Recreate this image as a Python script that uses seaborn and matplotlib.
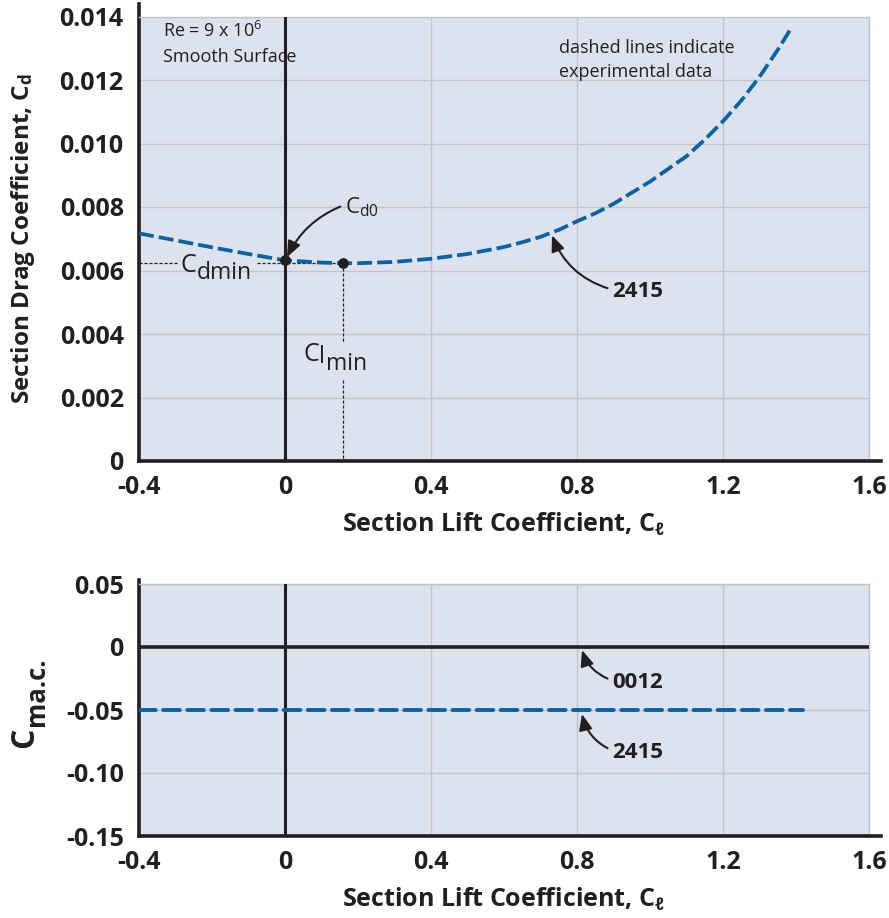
import numpy as np
import pandas as pd
import matplotlib.pyplot as plt
import seaborn as sns

# NACA 2415 drag polar
cl_2415 = [-0.4, -0.3, -0.2, -0.1, 0.0, 0.1, 0.16, 0.2, 0.3, 0.4, 0.5, 0.6,
           0.65, 0.7, 0.75, 0.8, 0.85, 0.9, 0.95, 1.0, 1.05, 1.1, 1.15, 1.2,
           1.25, 1.3, 1.35, 1.385]
cd_2415 = [0.00717, 0.00695, 0.00673, 0.00652, 0.00632, 0.00625, 0.00623,
           0.00623, 0.00627, 0.00637, 0.00652, 0.00674, 0.00689, 0.00706,
           0.00728, 0.00755, 0.0078, 0.0081, 0.00845, 0.0088, 0.0092, 0.0096,
           0.01012, 0.0107, 0.01135, 0.0121, 0.01295, 0.0136]
cd0_pt = (0.0, 0.00632)
cdmin_pt = (0.16, 0.00623)

# moment coefficient about a.c.
cl_cm_2415 = [-0.4, 1.42]
cm_2415 = [-0.05, -0.05]
cl_cm_0012 = [-0.4, 1.6]
cm_0012 = [0.0, 0.0]

x_ticks = [-0.4, 0, 0.4, 0.8, 1.2, 1.6]
x_labels = ['-0.4', '0', '0.4', '0.8', '1.2', '1.6']
cd_ticks = [0, 0.002, 0.004, 0.006, 0.008, 0.010, 0.012, 0.014]
cd_labels = ['0', '0.002', '0.004', '0.006', '0.008', '0.010', '0.012', '0.014']
cm_ticks = [0.05, 0, -0.05, -0.10, -0.15]
cm_labels = ['0.05', '0', '-0.05', '-0.10', '-0.15']

blue = '#0862a3'
ink = '#231f20'
gridc = '#c3c4c9'
bg = '#dce3ef'

sns.set_theme(style='whitegrid', rc={'axes.facecolor': bg, 'grid.color': gridc,
                                     'grid.linewidth': 1.0})
plt.rcParams['font.family'] = ['Open Sans', 'DejaVu Sans']
plt.rcParams['mathtext.default'] = 'regular'
plt.rcParams['axes.unicode_minus'] = False

fig = plt.figure(figsize=(8.89, 9.18), dpi=100)
ax1 = fig.add_axes([139/889, 1-461/918, 730/889, 444.5/918])
ax2 = fig.add_axes([139/889, 1-836/918, 730/889, 252/918])


def style_axes(ax, yticks, ylabels, ylim, ytop_ext):
    ax.set_xlim(-0.4, 1.6)
    ax.set_ylim(*ylim)
    ax.set_xticks(x_ticks)
    ax.set_xticklabels(x_labels, fontsize=18, fontweight='bold', color=ink)
    ax.set_yticks(yticks)
    ax.set_yticklabels(ylabels, fontsize=18, fontweight='bold', color=ink)
    ax.tick_params(length=0, pad=11)
    ax.tick_params(axis='x', pad=10)
    ax.set_axisbelow(True)
    for s in ['top', 'right']:
        ax.spines[s].set_color(gridc)
        ax.spines[s].set_linewidth(1.0)
    for s in ['left', 'bottom']:
        ax.spines[s].set_color(ink)
        ax.spines[s].set_linewidth(2.6)
    ax.spines['left'].set_bounds(ylim[0], ytop_ext)
    ax.spines['bottom'].set_bounds(-0.4, 1.633)
    ax.axvline(0, color=ink, lw=2.2, zorder=3)
    ax.set_xlabel('Section Lift Coefficient, C$_\\ell$', fontsize=18,
                  fontweight='bold', color=ink, labelpad=8)


arrow = dict(arrowstyle='-|>,head_length=0.6,head_width=0.25', color=ink, lw=1.5,
             shrinkA=1, shrinkB=0)


def pointer(ax, label, tip, at, rad, bold=True, size=16):
    ax.annotate(label, xy=tip, xytext=at, fontsize=size, color=ink,
                fontweight='bold' if bold else 'normal', va='baseline', ha='left',
                arrowprops=dict(connectionstyle='arc3,rad=%s' % rad,
                                relpos=(0, 0.6), **arrow))


# ---- top: drag coefficient ----
style_axes(ax1, cd_ticks, cd_labels, (0, 0.014), 0.0144)
sns.lineplot(x=cl_2415, y=cd_2415, ax=ax1, color=blue, lw=2.7,
             linestyle=(0, (4.0, 1.35)), zorder=4)
ax1.scatter([cd0_pt[0], cdmin_pt[0]], [cd0_pt[1], cdmin_pt[1]], s=60,
            color=ink, zorder=5, linewidths=0)
ax1.set_ylabel('Section Drag Coefficient, C$_\\mathregular{d}$', fontsize=17.5,
               fontweight='bold', color=ink, labelpad=16)

# dotted guides for Cd_min and Cl_min
dot = dict(color=ink, lw=0.9, ls=(0, (2.5, 1.5)), zorder=3)
ax1.plot([-0.4, -0.293], [cdmin_pt[1]] * 2, **dot)
ax1.plot([-0.077, cdmin_pt[0]], [cdmin_pt[1]] * 2, **dot)
ax1.plot([cdmin_pt[0]] * 2, [cdmin_pt[1], 0.00374], **dot)
ax1.plot([cdmin_pt[0]] * 2, [0.00255, 0], **dot)

ax1.text(-0.334, 0.01334, 'Re = 9 x 10$^6$', fontsize=13, color=ink, va='baseline')
ax1.text(-0.334, 0.01258, 'Smooth Surface', fontsize=13, color=ink, va='baseline')
ax1.text(0.751, 0.01284, 'dashed lines indicate', fontsize=13, color=ink, va='baseline')
ax1.text(0.751, 0.01208, 'experimental data', fontsize=13, color=ink, va='baseline')

# C_dmin and C_lmin with large, dropped subscripts
c1 = ax1.text(-0.286, 0.00577, 'C', fontsize=18, color=ink, va='bottom', ha='left')
ax1.annotate('dmin', xy=(1, 0), xycoords=c1, xytext=(0.5, -5.5),
             textcoords='offset points', fontsize=16.5, color=ink, va='bottom', ha='left')
c2 = ax1.text(0.05, 0.00297, 'C', fontsize=18, color=ink, va='bottom', ha='left')
l2 = ax1.annotate('l', xy=(1, 0), xycoords=c2, xytext=(0.3, -2),
                  textcoords='offset points', fontsize=16.5, color=ink,
                  va='bottom', ha='left')
ax1.annotate('min', xy=(1, 0), xycoords=l2, xytext=(0.3, -5),
             textcoords='offset points', fontsize=16.5, color=ink, va='bottom', ha='left')

pointer(ax1, 'C$_\\mathregular{d0}$', (0.0055, 0.00642), (0.164, 0.0078), 0.2,
        bold=False, size=16)
pointer(ax1, '2415', (0.7315, 0.00711), (0.896, 0.00516), -0.25)

# ---- bottom: moment coefficient ----
style_axes(ax2, cm_ticks, cm_labels, (-0.15, 0.05), 0.053)
sns.lineplot(x=cl_cm_0012, y=cm_0012, ax=ax2, color=ink, lw=2.6, zorder=4)
sns.lineplot(x=cl_cm_2415, y=cm_2415, ax=ax2, color=blue, lw=2.8,
             linestyle=(0, (4.3, 1.9)), dash_capstyle='round', zorder=4)
fig.text(25/889, 1-738/918, 'C', fontsize=23, fontweight='bold', color=ink,
         rotation=90, ha='center', va='center')
fig.text(37/889, 1-692/918, 'ma.c.', fontsize=18.5, fontweight='bold', color=ink,
         rotation=90, ha='center', va='center')
pointer(ax2, '0012', (0.8137, -0.0024), (0.896, -0.0325), -0.25)
pointer(ax2, '2415', (0.8137, -0.0532), (0.896, -0.0881), -0.25)

fig.savefig('out.png', dpi=100, facecolor='white')
